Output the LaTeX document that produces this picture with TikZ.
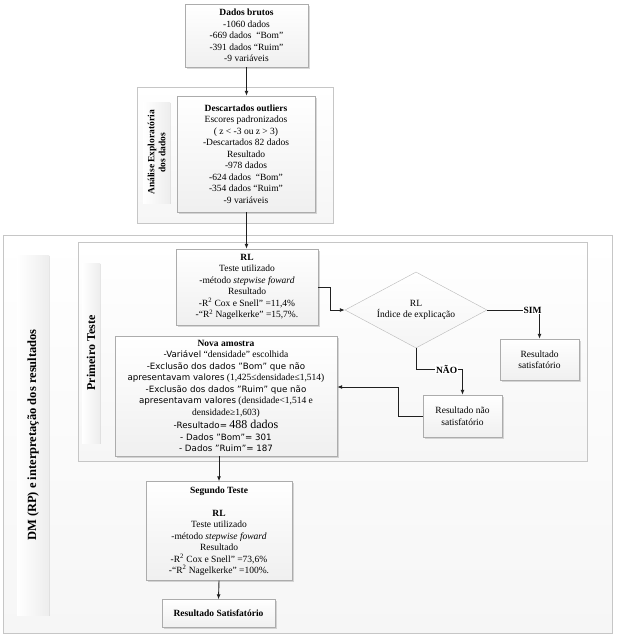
\documentclass[tikz,border=0pt]{standalone}
\usepackage{fontspec}
\setmainfont{Liberation Serif}
\newfontfamily\tahoma{DejaVu Sans}
\usetikzlibrary{shapes.geometric,shadows,arrows.meta}

\tikzset{
  caixa/.style={draw=gray!65, top color=white, bottom color=gray!12, align=center,
    inner sep=1pt, font=\fontsize{9.5}{11.5}\selectfont,
    drop shadow={shadow xshift=1.5pt, shadow yshift=-1.5pt, opacity=0.3}},
  quadro/.style={draw=gray!45, top color=white, bottom color=gray!7},
  faixa/.style={left color=white, right color=gray!14, draw=none,
    drop shadow={shadow xshift=1pt, shadow yshift=-1pt, opacity=0.2}},
  titulo/.style={rotate=90, align=center, font=\bfseries},
  losango/.style={diamond, draw=gray!55, top color=white, bottom color=gray!8,
    aspect=1.87, inner sep=0pt, align=center, font=\fontsize{9.5}{11.5}\selectfont},
  seta/.style={-{Latex[length=5pt,width=4pt]}, line width=0.9pt, draw=gray!25!black},
  rotulo/.style={fill=white, inner sep=1pt, font=\fontsize{9.5}{11.5}\selectfont\bfseries}
}
\newcommand{\sans}{\tahoma\fontsize{8.7}{11.5}\selectfont}

\begin{document}
\begin{tikzpicture}[x=1pt,y=-1pt]
\useasboundingbox (0,0) rectangle (617,638);

% quadros de fundo
\node[quadro, minimum width=609pt, minimum height=398pt] (dmquadro) at (307.5,434) {};
\node[faixa, minimum width=32pt, minimum height=360pt] (dmfaixa) at (33,435) {};
\node[titulo, font=\fontsize{12.5}{14}\selectfont\bfseries] (dmtitulo) at (dmfaixa) {DM (RP) e interpretação dos resultados};

\node[quadro, minimum width=509pt, minimum height=219pt] (ptquadro) at (332.5,351.5) {};
\node[faixa, minimum width=18pt, minimum height=180pt] (ptfaixa) at (91,353) {};
\node[titulo, font=\fontsize{12}{14}\selectfont\bfseries] (pttitulo) at (ptfaixa) {Primeiro Teste};

\node[quadro, minimum width=196pt, minimum height=136pt] (expquadro) at (235,155) {};
\node[faixa, minimum width=27pt, minimum height=101pt] (expfaixa) at (156.5,152.5) {};
\node[titulo, font=\fontsize{9.5}{11}\selectfont\bfseries] (exptitulo) at (expfaixa) {Análise Exploratória\\dos dados};

% caixas
\node[caixa, minimum width=123pt, minimum height=63pt] (raw) at (246.5,35.5)
  {\textbf{Dados brutos}\\-1060 dados\\-669 dados ~“Bom”\\-391 dados “Ruim”\\-9 variáveis};

\node[caixa, minimum width=138pt, minimum height=116pt] (outl) at (246,154)
  {\textbf{Descartados outliers}\\Escores padronizados\\( z < -3 ou z > 3)\\-Descartados 82 dados\\Resultado\\-978 dados\\-624 dados ~“Bom”\\-354 dados “Ruim”\\-9 variáveis};

\node[caixa, minimum width=142pt, minimum height=76pt] (rl1) at (247,287)
  {\textbf{RL}\\Teste utilizado\\-método \textit{stepwise foward}\\Resultado\\-R\textsuperscript{2} Cox e Snell” =11,4\%\\-“R\textsuperscript{2} Nagelkerke” =15,7\%.};

\node[losango, minimum width=142pt, minimum height=76pt] (dia) at (416,310)
  {RL\\Índice de explicação};

\node[caixa, minimum width=79pt, minimum height=41pt] (sat1) at (539.5,359.5)
  {Resultado\\satisfatório};

\node[caixa, minimum width=79pt, minimum height=42pt] (nsat) at (462.5,416)
  {Resultado não\\satisfatório};

\node[caixa, minimum width=222pt, minimum height=120pt] (nova) at (226,396)
  {\textbf{Nova amostra}\\
   {\sans -Variável} “densidade” escolhida\\
   {\sans -Exclusão dos dados ”Bom” que não}\\
   {\sans apresentavam valores} (1,425≤densidade≤1,514)\\
   {\sans -Exclusão dos dados ”Ruim” que não}\\
   {\sans apresentavam valores} (densidade<1,514 e\\
   densidade≥1,603)\\[2pt]
   {\sans -Resultado=} {\fontsize{12}{12}\selectfont 488 dados}\\
   {\sans - Dados ”Bom”= 301}\\
   {\sans - Dados ”Ruim”= 187}};

\node[caixa, minimum width=146pt, minimum height=99pt] (seg) at (219,531)
  {\textbf{Segundo Teste}\\[11.5pt]\textbf{RL}\\Teste utilizado\\-método \textit{stepwise foward}\\Resultado\\-R\textsuperscript{2} Cox e Snell” =73,6\%\\-“R\textsuperscript{2} Nagelkerke” =100\%.};

\node[caixa, minimum width=113pt, minimum height=28pt] (fin) at (218.5,613.5)
  {\textbf{Resultado Satisfatório}};

% conectores
\draw[seta] (raw.south) -- (raw.south |- outl.north);
\draw[seta] (raw.south |- outl.south) -- (raw.south |- rl1.north);
\draw[seta] (rl1.east) -- ++(12,0) |- (dia.west);
\draw[seta] (dia.east) -| (sat1.north) node[rotulo, pos=0.5, xshift=-7pt] {SIM};
\draw[seta] (dia.south) -- ++(0,21) -| (nsat.north) node[rotulo, pos=0.33] {NÃO};
\draw[seta] (nsat.west) -- ++(-24,0) |- ([yshift=9pt]nova.east);
\draw[seta] (seg.north |- nova.south) -- (seg.north);
\draw[seta] (seg.south) -- (fin.north);
\end{tikzpicture}
\end{document}
